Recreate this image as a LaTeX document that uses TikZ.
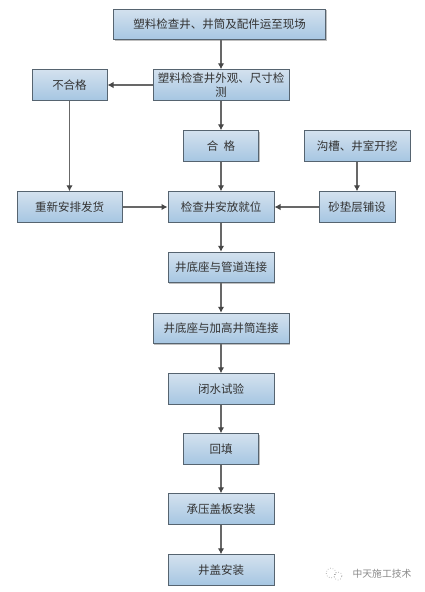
\documentclass[tikz,border=0pt]{standalone}
\usepackage{fontspec}
\setmainfont{Noto Sans CJK SC}
\usetikzlibrary{arrows.meta,shadows}
\definecolor{boxtop}{HTML}{D3E1EE}
\definecolor{boxbot}{HTML}{A6C6E2}
\definecolor{boxline}{HTML}{566470}
\definecolor{conn}{HTML}{686868}
\definecolor{txt}{HTML}{333333}
\definecolor{wm}{HTML}{8A8A8A}
\tikzset{
  flowbox/.style={draw=boxline,line width=1pt,top color=boxtop,bottom color=boxbot,
    minimum height=30.5pt,inner sep=1pt,align=center,text=txt,
    font=\fontsize{11.5}{14.5}\selectfont,
    drop shadow={shadow xshift=1pt,shadow yshift=-1pt,fill=black,opacity=0.25}},
  conn/.style={draw=conn,line width=1.2pt,-{Latex[length=6pt,width=6.5pt,color=black!72]}},
}
\begin{document}
\begin{tikzpicture}[x=1pt,y=-1pt]
\useasboundingbox (0,0) rectangle (424,592);
\fill[white] (0,0) rectangle (424,592);
\node[flowbox,minimum width=212pt] (a) at (219.5,24.5) {塑料检查井、井筒及配件运至现场};
\node[flowbox,minimum width=136pt,text width=130pt] (b) at (221,85) {塑料检查井外观、尺寸检\\测};
\node[flowbox,minimum width=75pt] (c) at (69.5,85) {不合格};
\node[flowbox,minimum width=75pt] (d) at (221,146) {合\ \ 格};
\node[flowbox,minimum width=106pt] (e) at (357,146) {沟槽、井室开挖};
\node[flowbox,minimum width=105pt] (f) at (69.5,207) {重新安排发货};
\node[flowbox,minimum width=106pt] (g) at (221,207) {检查井安放就位};
\node[flowbox,minimum width=76pt] (h) at (357,207) {砂垫层铺设};
\node[flowbox,minimum width=106pt] (i) at (221,267.5) {井底座与管道连接};
\node[flowbox,minimum width=136pt] (j) at (221,328.5) {井底座与加高井筒连接};
\node[flowbox,minimum width=106pt] (k) at (221,389) {闭水试验};
\node[flowbox,minimum width=75pt] (l) at (221,449) {回填};
\node[flowbox,minimum width=106pt] (m) at (221,509) {承压盖板安装};
\node[flowbox,minimum width=106pt] (n) at (221,570) {井盖安装};
\draw[conn] (a.south -| b.north) -- (b.north);
\draw[conn] (b) -- (c);
\draw[conn] (b) -- (d);
\draw[conn] (c) -- (f);
\draw[conn] (d) -- (g);
\draw[conn] (e) -- (h);
\draw[conn] (f) -- (g);
\draw[conn] (h) -- (g);
\draw[conn] (g) -- (i);
\draw[conn] (i) -- (j);
\draw[conn] (j) -- (k);
\draw[conn] (k) -- (l);
\draw[conn] (l) -- (m);
\draw[conn] (m) -- (n);
\draw[wm,line width=0.6pt,dotted] (331,573) circle (5pt);
\draw[wm,line width=0.6pt,dotted] (338,576) circle (4pt);
\node[text=wm,font=\fontsize{9.8}{12}\selectfont,inner sep=0pt] (w) at (382,574) {中天施工技术};
\end{tikzpicture}
\end{document}
